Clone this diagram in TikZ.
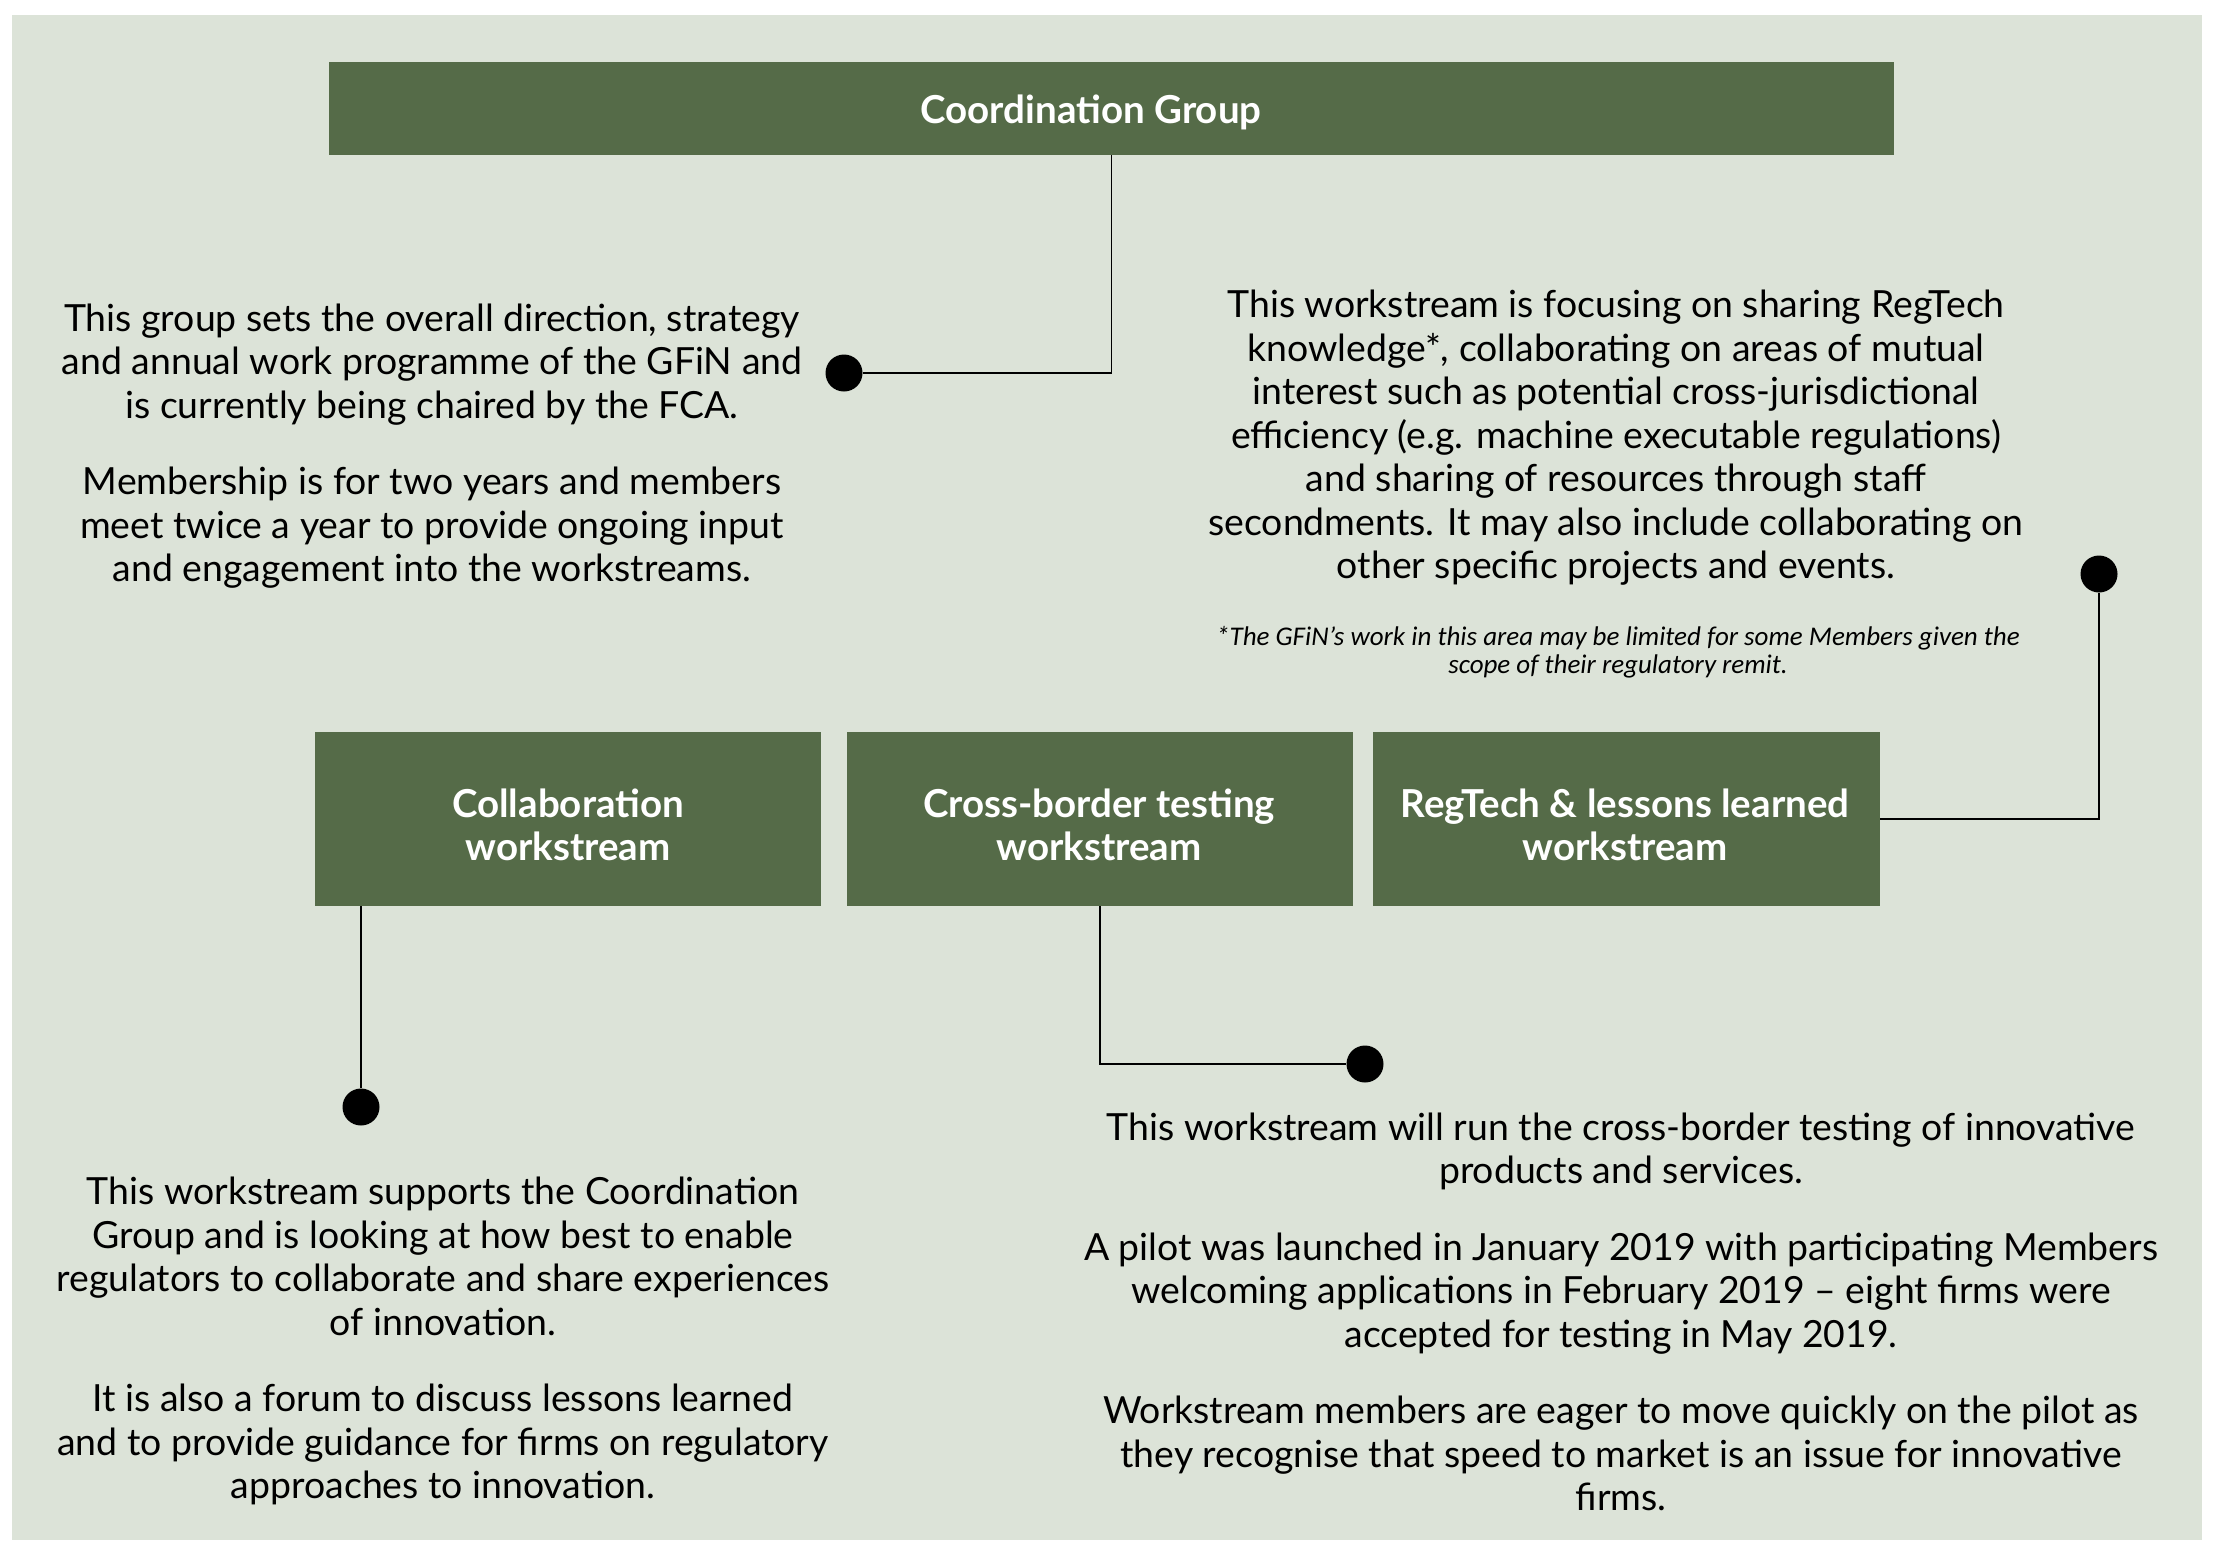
\documentclass[tikz,border=0pt]{standalone}
\usepackage{fontspec}
\setmainfont{Lato}
\newfontfamily\notefont{Carlito}
\definecolor{bgcol}{RGB}{220,227,216}
\definecolor{boxcol}{RGB}{85,107,72}
\tikzset{
  gbox/.style={fill=boxcol, draw=none, inner sep=0pt},
  boxlabel/.style={text=white, font=\fontsize{38.5}{43.5}\selectfont\bfseries, align=center, inner sep=0pt},
  bodytext/.style={text=black, font=\fontsize{37.4}{43.5}\selectfont, align=center, inner sep=0pt},
  notetext/.style={text=black, font=\notefont\itshape\fontsize{27}{28.5}\selectfont, align=center, inner sep=0pt},
  conn/.style={draw=black, line width=1.5pt},
  blob/.style={circle, fill=black, minimum size=37pt, inner sep=0pt}
}
\begin{document}
\begin{tikzpicture}[x=1pt,y=-1pt]
\useasboundingbox (0,0) rectangle (2216,1540);
\fill[white] (0,0) rectangle (2216,1540);
\fill[bgcol] (12,15) rectangle (2202,1540);

% boxes
\node[gbox, minimum width=1565pt, minimum height=93pt] (cg) at (1111.5,108.5) {};
\node[boxlabel] (cgl) at (1091,112) {Coordination Group};
\node[gbox, minimum width=506pt, minimum height=174pt] (co) at (568,819) {};
\node[boxlabel] (col) at (568,825) {Collaboration\\workstream};
\node[gbox, minimum width=506pt, minimum height=174pt] (cb) at (1100,819) {};
\node[boxlabel] (cbl) at (1099,825) {Cross-border testing\\workstream};
\node[gbox, minimum width=507pt, minimum height=174pt] (rt) at (1626.5,819) {};
\node[boxlabel] (rtl) at (1625,825) {RegTech \& lessons learned\\workstream};

% dots
\node[blob] (d1) at (844,373) {};
\node[blob] (d2) at (2099,574) {};
\node[blob] (d3) at (361,1107) {};
\node[blob] (d4) at (1365,1064) {};

% connectors
\draw[conn] (cg.south) -- (cg.south |- d1) -- (d1);
\draw[conn] (rt.east) -- (rt.east -| d2) -- (d2);
\draw[conn] (d3 |- co.south) -- (d3);
\draw[conn] (cb.south) -- (cb.south |- d4) -- (d4);

% texts
\node[bodytext] (t1) at (432,446) {This group sets the overall direction, strategy\\
and annual work programme of the GFiN and\\
is currently being chaired by the FCA.\\[33pt]
Membership is for two years and members\\
meet twice a year to provide ongoing input\\
and engagement into the workstreams.};

\node[bodytext] (t2) at (1616,438) {This workstream is focusing on sharing RegTech\\
knowledge*, collaborating on areas of mutual\\
interest such as potential cross-jurisdictional\\
efficiency (e.g. machine executable regulations)\\
and sharing of resources through staff\\
secondments. It may also include collaborating on\\
other specific projects and events.};

\node[notetext] (t2n) at (1618,652) {*The GFiN’s work in this area may be limited for some Members given the\\
scope of their regulatory remit.};

\node[bodytext] (t3) at (443,1341) {This workstream supports the Coordination\\
Group and is looking at how best to enable\\
regulators to collaborate and share experiences\\
of innovation.\\[33pt]
It is also a forum to discuss lessons learned\\
and to provide guidance for firms on regulatory\\
approaches to innovation.};

\node[bodytext] (t4) at (1621,1312) {This workstream will run the cross-border testing of innovative\\
products and services.\\[33pt]
A pilot was launched in January 2019 with participating Members\\
welcoming applications in February 2019 -- eight firms were\\
accepted for testing in May 2019.\\[33pt]
Workstream members are eager to move quickly on the pilot as\\
they recognise that speed to market is an issue for innovative\\
firms.};
\end{tikzpicture}
\end{document}
